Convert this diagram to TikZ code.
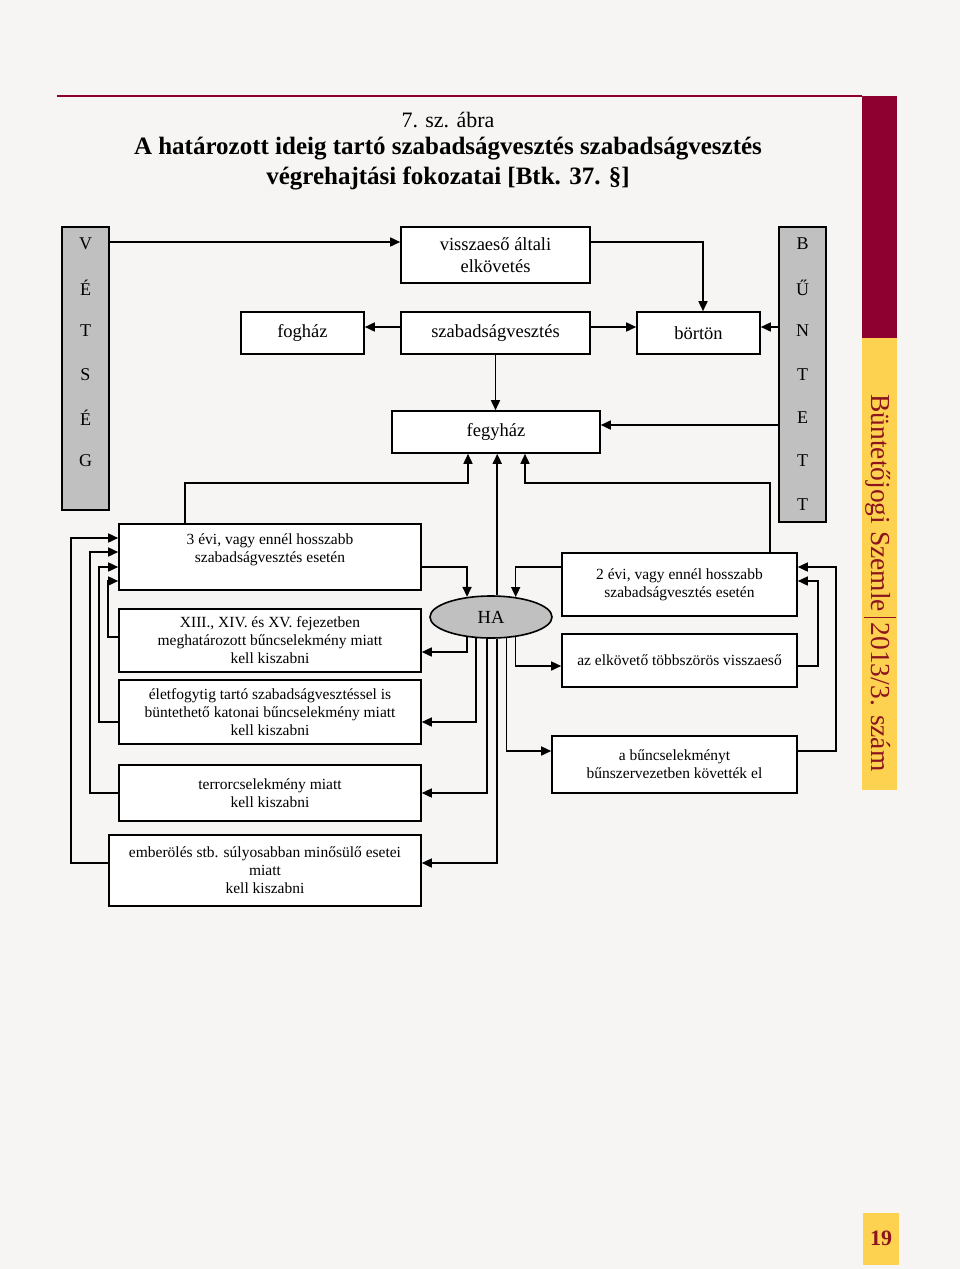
\documentclass[tikz,border=0pt]{standalone}
\usepackage{fontspec}
\setmainfont{Liberation Serif}
\usepackage{xcolor}
\usepackage{tikz}
\usetikzlibrary{shapes,arrows.meta}

\begin{document}
\begin{tikzpicture}
    [%%%%%%%%%%%%%%%%%%%%%%%%%%%%%%
        x=1pt, y=-1pt,
        box/.style={rectangle,draw=black,line width=1.6pt,fill=white,align=center,inner sep=0pt},
        kis/.style={box,font=\fontsize{15.5}{18}\selectfont},
        nagy/.style={box,font=\fontsize{18.5}{22}\selectfont},
        oszlop/.style={rectangle,draw=black,line width=1.6pt,fill=szurke,minimum width=47pt},
        betu/.style={font=\fontsize{18}{20}\selectfont},
        pil/.style={-{Triangle[length=10pt,width=9pt]},line width=1.6pt}
    ]%%%%%%%%%%%%%%%%%%%%%%%%%%%%%%
\definecolor{lap}{RGB}{246,245,243}
\definecolor{bordo}{RGB}{142,0,48}
\definecolor{sarga}{RGB}{253,210,80}
\definecolor{sotetvoros}{RGB}{140,20,30}
\definecolor{szurke}{RGB}{192,192,192}

\fill[lap] (0,0) rectangle (960,1269);
\useasboundingbox (0,0) rectangle (960,1269);

% page decoration
\draw[bordo,line width=1.5pt] (57,96) -- (862,96);
\fill[bordo] (862,96) rectangle (897,338);
\fill[sarga] (862,338) rectangle (897,790);
\node[rotate=-90,text=sotetvoros,font=\fontsize{27.5}{30}\selectfont] (folyoirat) at (880,583)
    {Büntetőjogi Szemle\,\rule[-0.28em]{1.4pt}{1.15em}\,2013/3. szám};
\fill[sarga] (863,1213) rectangle (899,1265);
\node[text=sotetvoros,font=\fontsize{22}{24}\selectfont\bfseries] (oldalszam) at (881,1238) {19};

% title
\node[font=\fontsize{22}{24}\selectfont] (abra) at (448,120) {7. sz. ábra};
\node[font=\fontsize{25}{27}\selectfont\bfseries] (cim1) at (448,149)
    {A határozott ideig tartó szabadságvesztés szabadságvesztés};
\node[font=\fontsize{25}{27}\selectfont\bfseries] (cim2) at (448,178)
    {végrehajtási fokozatai [Btk. 37. §]};

% side columns
\node[oszlop,minimum height=283pt] (vetseg) at (85.5,368.5) {};
\foreach \b [count=\i] in {V,É,T,S,É,G}
    \node[betu] (v\i) at (85.5,200.6+43.4*\i) {\b};

\node[oszlop,minimum height=295pt] (buntett) at (802.5,374.5) {};
\foreach \b [count=\i] in {B,Ű,N,T,E,T,T}
    \node[betu] (b\i) at (802.5,200.6+43.4*\i) {\b};

% upper boxes
\node[nagy,minimum width=189pt,minimum height=56pt] (vissza) at (495.5,255) {visszaeső általi\\elkövetés};
\node[nagy,minimum width=189pt,minimum height=42pt] (szabad) at (495.5,333) {szabadságvesztés};
\node[nagy,minimum width=123pt,minimum height=42pt] (foghaz) at (302.5,333) {fogház};
\node[nagy,minimum width=123pt,minimum height=42pt] (borton) at (698.5,333) {börtön};
\node[nagy,minimum width=208pt,minimum height=42pt] (fegyhaz) at (496,432) {fegyház};

% left boxes
\node[kis,minimum width=302pt,minimum height=66pt] (harom) at (270,557)
    {3 évi, vagy ennél hosszabb\\szabadságvesztés esetén\\\mbox{}};
\node[kis,minimum width=302pt,minimum height=63pt] (tizen) at (270,640.5)
    {XIII., XIV. és XV. fejezetben\\meghatározott bűncselekmény miatt\\kell kiszabni};
\node[kis,minimum width=302pt,minimum height=64pt] (elet) at (270,712)
    {életfogytig tartó szabadságvesztéssel is\\büntethető katonai bűncselekmény miatt\\kell kiszabni};
\node[kis,minimum width=302pt,minimum height=56pt] (terror) at (270,793)
    {terrorcselekmény miatt\\kell kiszabni};
\node[kis,minimum width=312pt,minimum height=71pt] (ember) at (265,870.5)
    {emberölés stb. súlyosabban minősülő esetei\\miatt\\kell kiszabni};

% HA
\node[ellipse,draw=black,line width=1.6pt,fill=szurke,minimum width=122pt,minimum height=42pt,
    inner sep=0pt,font=\fontsize{18.5}{22}\selectfont] (ha) at (491,617) {HA};

% right boxes
\node[kis,minimum width=235pt,minimum height=63pt] (ketev) at (679.5,584.5)
    {2 évi, vagy ennél hosszabb\\szabadságvesztés esetén};
\node[kis,minimum width=235pt,minimum height=53pt] (elkoveto) at (679.5,660.5)
    {az elkövető többszörös visszaeső};
\node[kis,minimum width=245pt,minimum height=57pt] (szervezet) at (674.5,764.5)
    {a bűncselekményt\\bűnszervezetben követték el};

% upper connectors
\draw[pil] ([yshift=13pt]vissza.west -| vetseg.east) -- ([yshift=13pt]vissza.west);
\draw[pil] ([yshift=13pt]vissza.east) -| ([xshift=4.5pt]borton.north);
\draw[pil] ([yshift=6pt]szabad.west) -- ([yshift=6pt]foghaz.east);
\draw[pil] ([yshift=6pt]szabad.east) -- ([yshift=6pt]borton.west);
\draw[pil] ([yshift=6pt]borton.east -| buntett.west) -- ([yshift=6pt]borton.east);
\draw[pil] (szabad.south) -- (szabad.south |- fegyhaz.north);
\draw[pil] ([yshift=7pt]fegyhaz.east -| buntett.west) -- ([yshift=7pt]fegyhaz.east);

% into fegyhaz
\draw[pil] ([xshift=-85pt]harom.north) |- ([xshift=-28pt,yshift=-29pt]fegyhaz.south) -- ([xshift=-28pt]fegyhaz.south);
\draw[pil] (ha.74) -- (ha.74 |- fegyhaz.south);
\draw[pil] ([xshift=90.5pt]ketev.north) |- ([xshift=29pt,yshift=-29pt]fegyhaz.south) -- ([xshift=29pt]fegyhaz.south);

% into HA
\draw[pil] ([yshift=-10pt]harom.east) -| (ha.140);
\draw[pil] ([yshift=17.5pt]ketev.west) -| (ha.39);

% out of HA
\draw[pil] (ha.220) |- ([yshift=-11.5pt]tizen.east);
\draw[pil] (ha.235) |- ([yshift=-10pt]elet.east);
\draw[pil] (ha.259) |- (terror.east);
\draw[pil] (ha.286) |- ([yshift=7.5pt]ember.east);
\draw[pil] (ha.321) |- ([yshift=-5.5pt]elkoveto.west);
\draw[pil] (ha.306) |- ([yshift=13.5pt]szervezet.west);

% back to 2 evi
\draw[pil] ([yshift=-5.5pt]elkoveto.east) -- ++(20pt,0pt) |- ([yshift=3.5pt]ketev.east);
\draw[pil] ([yshift=13.5pt]szervezet.east) -- ++(38pt,0pt) |- ([yshift=17.5pt]ketev.east);

% back to 3 evi
\draw[pil] ([yshift=7.5pt]ember.west) -- ++(-37pt,0pt) |- ([yshift=19pt]harom.west);
\draw[pil] (terror.west) -- ++(-28pt,0pt) |- ([yshift=5pt]harom.west);
\draw[pil] ([yshift=-10pt]elet.west) -- ++(-19pt,0pt) |- ([yshift=-10pt]harom.west);
\draw[pil] ([yshift=3.5pt]tizen.west) -- ++(-10pt,0pt) |- ([yshift=-24pt]harom.west);

\end{tikzpicture}
\end{document}
